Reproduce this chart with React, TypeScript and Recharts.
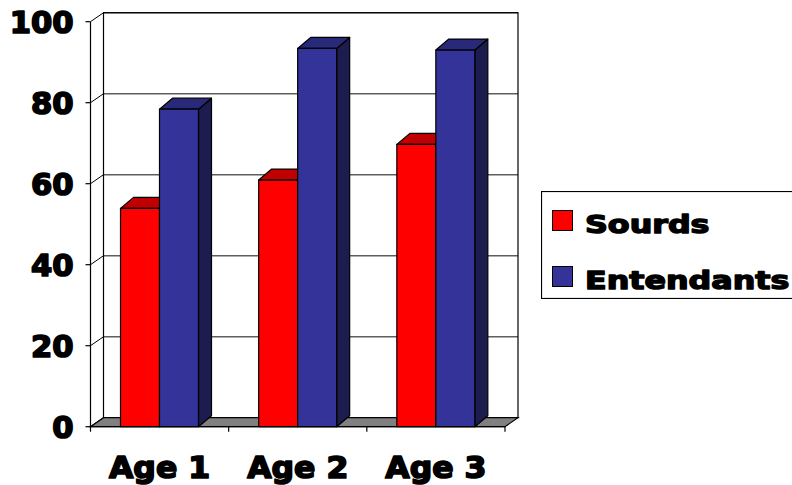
import React from 'react';
import {
  BarChart,
  Bar,
  XAxis,
  YAxis,
  CartesianGrid,
  ReferenceArea,
  Legend,
} from 'recharts';

// Survey scores by age group, deaf vs. hearing participants
const categories = ['Age 1', 'Age 2', 'Age 3'];
const sourds = [53.9, 60.9, 69.7];
const entendants = [78.4, 93.4, 93.0];
const seriesNames = ['Sourds', 'Entendants'];
const yTicks = [0, 20, 40, 60, 80, 100];

const data = categories.map((age, i) => ({
  age,
  Sourds: sourds[i],
  Entendants: entendants[i],
}));

const FONT = '"DejaVu Sans", "Liberation Sans", Arial, sans-serif';

// depth of the back wall and of the columns (pixels)
const WALL_DX = 13;
const WALL_DY = -9;
const BAR_DX = 13;
const BAR_DY = -11;

const RED = { front: '#FF0000', top: '#C00000', side: '#7A0000' };
const BLUE = { front: '#333399', top: '#29297A', side: '#1C1C4F' };

const makeBox = (shade: { front: string; top: string; side: string }) => (props: any) => {
  const { x, y, width, height } = props;
  if (width == null || height == null) return null;
  const r = x + width;
  const b = y + height;
  return (
    <g stroke="#000" strokeWidth={1.2} strokeLinejoin="round">
      <polygon
        points={`${r},${y} ${r + BAR_DX},${y + BAR_DY} ${r + BAR_DX},${b + BAR_DY} ${r},${b}`}
        fill={shade.side}
      />
      <polygon
        points={`${x},${y} ${x + BAR_DX},${y + BAR_DY} ${r + BAR_DX},${y + BAR_DY} ${r},${y}`}
        fill={shade.top}
      />
      <rect x={x} y={y} width={width} height={height} fill={shade.front} />
    </g>
  );
};

// back wall outline, floor and category boundary ticks
const Walls = (props: any) => {
  const { x, y, width, height } = props;
  const bottom = y + height;
  const n = categories.length;
  const ticks = Array.from({ length: n + 1 }, (_, k) => x + (k * width) / n);
  return (
    <g>
      <rect
        x={x + WALL_DX}
        y={y + WALL_DY}
        width={width}
        height={height}
        fill="none"
        stroke="#000"
        strokeWidth={1.2}
      />
      <polygon
        points={`${x},${bottom} ${x + width},${bottom} ${x + width + WALL_DX},${bottom + WALL_DY} ${x + WALL_DX},${bottom + WALL_DY}`}
        fill="#808080"
        stroke="#000"
        strokeWidth={1.2}
      />
      {ticks.map((tx, k) => (
        <line key={k} x1={tx} y1={bottom} x2={tx} y2={bottom + 5} stroke="#000" strokeWidth={1.2} />
      ))}
    </g>
  );
};

// gridlines on the back wall, joined to the axis by the left wall's diagonals
const GridLine = (p: any) => {
  const { x1, y1, x2, index } = p;
  return (
    <g key={`g-${index}`}>
      <line
        x1={x1 + WALL_DX}
        y1={y1 + WALL_DY}
        x2={x2 + WALL_DX}
        y2={y1 + WALL_DY}
        stroke="#5E5E5E"
        strokeWidth={1.6}
      />
      <line x1={x1} y1={y1} x2={x1 + WALL_DX} y2={y1 + WALL_DY} stroke="#000" strokeWidth={1} />
    </g>
  );
};

const YTick = (props: any) => {
  const { x, y, payload } = props;
  return (
    <g transform={`translate(${x},${y + 10.8}) scale(1.02,1)`}>
      <text
        x={0}
        y={0}
        textAnchor="end"
        fontFamily={FONT}
        fontWeight="bold"
        fontSize={30}
        fill="#000"
        stroke="#000"
        strokeWidth={1.7}
        strokeLinejoin="round"
      >
        {payload.value}
      </text>
    </g>
  );
};

const XTick = (props: any) => {
  const { x, y, payload } = props;
  return (
    <g transform={`translate(${x},${y + 43.3}) scale(1.05,1)`}>
      <text
        x={0}
        y={0}
        textAnchor="middle"
        fontFamily={FONT}
        fontWeight="bold"
        fontSize={30}
        fill="#000"
        stroke="#000"
        strokeWidth={1.7}
        strokeLinejoin="round"
      >
        {payload.value}
      </text>
    </g>
  );
};

const LegendBox = (props: any) => {
  const items = [...(props.payload || [])].sort(
    (a: any, b: any) => seriesNames.indexOf(a.value) - seriesNames.indexOf(b.value)
  );
  return (
    <svg width={252} height={108} style={{ display: 'block' }}>
      <rect x={0.5} y={0.5} width={260} height={107} fill="#fff" stroke="#000" strokeWidth={1.2} />
      {items.map((entry: any, i: number) => (
        <g key={entry.value} transform={`translate(0,${i * 56})`}>
          <rect x={11.5} y={19.5} width={20} height={20} fill={entry.color} stroke="#000" strokeWidth={1} />
          <g transform="translate(44,41.5) scale(1.27,1)">
            <text
              x={0}
              y={0}
              fontFamily={FONT}
              fontWeight="bold"
              fontSize={25}
              fill="#000"
              stroke="#000"
              strokeWidth={1.4}
              strokeLinejoin="round"
            >
              {entry.value}
            </text>
          </g>
        </g>
      ))}
    </svg>
  );
};

export default function App() {
  return (
    <div
      style={{
        position: 'absolute',
        left: 0,
        top: 0,
        width: 792,
        height: 485,
        overflow: 'hidden',
        background: '#fff',
      }}
    >
      <BarChart
        width={792}
        height={485}
        data={data}
        margin={{ top: 21.7, right: 287, bottom: 0, left: 0 }}
        barSize={39}
        barGap={0}
      >
        <CartesianGrid vertical={false} horizontal={GridLine as any} />
        <ReferenceArea y1={0} y2={100} shape={Walls} ifOverflow="visible" />
        <XAxis
          dataKey="age"
          height={58.3}
          tickLine={false}
          axisLine={{ stroke: '#000', strokeWidth: 1.2 }}
          tick={XTick}
          interval={0}
        />
        <YAxis
          width={90.5}
          domain={[0, 100]}
          ticks={yTicks}
          interval={0}
          tickSize={5}
          tickMargin={12}
          axisLine={{ stroke: '#000', strokeWidth: 1.2 }}
          tickLine={{ stroke: '#000', strokeWidth: 1.2 }}
          tick={YTick}
        />
        <Legend
          layout="vertical"
          align="center"
          verticalAlign="middle"
          content={LegendBox}
          wrapperStyle={{ position: 'absolute', left: 541, top: 191, width: 252, height: 108 }}
        />
        <Bar dataKey="Sourds" fill={RED.front} shape={makeBox(RED)} isAnimationActive={false} />
        <Bar dataKey="Entendants" fill={BLUE.front} shape={makeBox(BLUE)} isAnimationActive={false} />
      </BarChart>
    </div>
  );
}
